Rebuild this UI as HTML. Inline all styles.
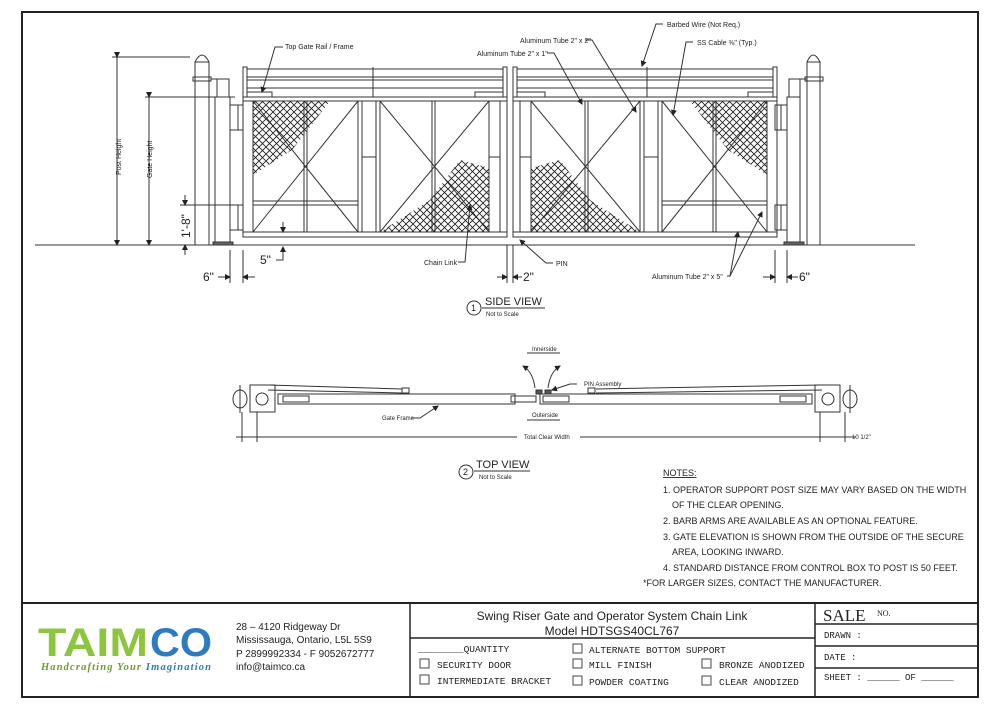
<!DOCTYPE html>
<html><head><meta charset="utf-8"><style>
html,body{margin:0;padding:0;background:#fff}
svg{display:block}
text{font-family:"Liberation Sans",Arial,sans-serif;fill:#222}
.m{font-family:"Liberation Mono",monospace;fill:#222}
.sf{font-family:"Liberation Serif",serif}
</style></head><body>
<svg width="1000" height="707" viewBox="0 0 1000 707" xmlns="http://www.w3.org/2000/svg">
<defs>
<pattern id="cl" width="7" height="7" patternUnits="userSpaceOnUse">
<path d="M0 0L7 7M7 0L0 7" stroke="#222" stroke-width="0.9"/>
</pattern>
<marker id="ar" markerWidth="6" markerHeight="6" refX="5" refY="3" orient="auto"><path d="M0 0L6 3L0 6z" fill="#222"/></marker>
<g id="leaf" fill="none" stroke="#333" stroke-width="1">
  <rect x="243" y="67" width="4" height="30"/>
  <rect x="503" y="67" width="4" height="30"/>
  <line x1="247" y1="69" x2="503" y2="69"/>
  <line x1="247" y1="77" x2="503" y2="77"/>
  <line x1="247" y1="80" x2="503" y2="80"/>
  <line x1="247" y1="88" x2="503" y2="88"/>
  <line x1="373" y1="67" x2="373" y2="97"/>
  <rect x="247" y="92" width="25" height="5"/>
  <rect x="475" y="92" width="28" height="5"/>
  <rect x="243" y="97" width="264" height="4"/>
  <rect x="243" y="232" width="264" height="5"/>
  <line x1="243" y1="101" x2="243" y2="232"/>
  <line x1="253" y1="101" x2="253" y2="232"/>
  <line x1="507" y1="101" x2="507" y2="232"/>
  <line x1="500" y1="101" x2="500" y2="232"/>
  <line x1="489" y1="101" x2="489" y2="232"/>
  <line x1="358" y1="101" x2="358" y2="232"/>
  <line x1="362" y1="101" x2="362" y2="232"/>
  <line x1="376" y1="101" x2="376" y2="232"/>
  <line x1="380" y1="101" x2="380" y2="232"/>
  <line x1="304" y1="101" x2="304" y2="232"/>
  <line x1="307" y1="101" x2="307" y2="232"/>
  <line x1="432" y1="101" x2="432" y2="232"/>
  <line x1="435" y1="101" x2="435" y2="232"/>
  <line x1="253" y1="201" x2="358" y2="201"/>
  <line x1="253" y1="205" x2="358" y2="205"/>
  <line x1="362" y1="157" x2="376" y2="157"/>
  <line x1="489" y1="157" x2="500" y2="157"/>
  <line x1="253" y1="101" x2="358" y2="232"/>
  <line x1="358" y1="101" x2="253" y2="232"/>
  <line x1="380" y1="101" x2="489" y2="232"/>
  <line x1="489" y1="101" x2="380" y2="232"/>
  <polygon points="253,101 330,101 292,150 253,175" fill="url(#cl)" stroke="none"/>
  <polygon points="380,232 489,232 489,168 460,160 430,200" fill="url(#cl)" stroke="none"/>
</g>
</defs>
<rect x="22" y="12" width="956" height="685" fill="none" stroke="#222" stroke-width="2"/>
<line x1="22" y1="603" x2="978" y2="603" stroke="#222" stroke-width="2"/>
<line x1="410" y1="603" x2="410" y2="697" stroke="#222" stroke-width="1.5"/>
<line x1="815" y1="603" x2="815" y2="697" stroke="#222" stroke-width="1.5"/>
<line x1="410" y1="638" x2="815" y2="638" stroke="#222" stroke-width="1.5"/>
<line x1="815" y1="624" x2="978" y2="624" stroke="#222" stroke-width="1.5"/>
<line x1="815" y1="646" x2="978" y2="646" stroke="#222" stroke-width="1.5"/>
<line x1="815" y1="668" x2="978" y2="668" stroke="#222" stroke-width="1.5"/>

<line x1="35" y1="245" x2="915" y2="245" stroke="#333"/>
<use href="#leaf"/>
<use href="#leaf" transform="translate(1020,0) scale(-1,1)"/>
<g fill="none" stroke="#333">
 <rect x="195" y="62" width="14" height="183"/>
 <path d="M195 62 Q202 48 209 62"/>
 <rect x="193" y="77" width="18" height="4"/>
 <line x1="211" y1="79" x2="229" y2="79"/>
 <rect x="217" y="79" width="12" height="18"/>
 <rect x="215" y="97" width="15" height="148"/>
 <rect x="230" y="105" width="13" height="25"/><line x1="238" y1="105" x2="238" y2="130"/>
 <rect x="230" y="205" width="13" height="25"/><line x1="238" y1="205" x2="238" y2="230"/>
 <rect x="213" y="242" width="20" height="3" fill="#666"/>
 <rect x="807" y="62" width="13" height="183"/>
 <path d="M807 62 Q813 48 820 62"/>
 <rect x="805" y="77" width="18" height="4"/>
 <line x1="789" y1="79" x2="807" y2="79"/>
 <rect x="789" y="79" width="11" height="18"/>
 <rect x="787" y="97" width="13" height="148"/>
 <rect x="775" y="105" width="12" height="25"/><line x1="781" y1="105" x2="781" y2="130"/>
 <rect x="775" y="205" width="12" height="25"/><line x1="781" y1="205" x2="781" y2="230"/>
 <rect x="784" y="242" width="20" height="3" fill="#666"/>
 <line x1="112" y1="57" x2="190" y2="57"/>
 <line x1="117" y1="57" x2="117" y2="245" marker-start="url(#ar)" marker-end="url(#ar)"/>
 <line x1="145" y1="97" x2="235" y2="97"/>
 <line x1="149" y1="97" x2="149" y2="245" marker-start="url(#ar)" marker-end="url(#ar)"/>
 <line x1="180" y1="205" x2="230" y2="205"/>
 <line x1="185" y1="195" x2="185" y2="205" marker-end="url(#ar)"/>
 <line x1="185" y1="255" x2="185" y2="245" marker-end="url(#ar)"/>
 <line x1="230" y1="250" x2="230" y2="283"/><line x1="243" y1="250" x2="243" y2="283"/>
 <line x1="218" y1="277" x2="230" y2="277" marker-end="url(#ar)"/>
 <line x1="255" y1="277" x2="243" y2="277" marker-end="url(#ar)"/>
 <line x1="787" y1="250" x2="787" y2="283"/><line x1="775" y1="250" x2="775" y2="283"/>
 <line x1="763" y1="277" x2="775" y2="277" marker-end="url(#ar)"/>
 <line x1="798" y1="277" x2="787" y2="277" marker-end="url(#ar)"/>
 <line x1="507" y1="245" x2="507" y2="283"/><line x1="513" y1="245" x2="513" y2="283"/>
 <line x1="497" y1="277" x2="507" y2="277" marker-end="url(#ar)"/>
 <line x1="522" y1="277" x2="513" y2="277" marker-end="url(#ar)"/>
 <line x1="283" y1="222" x2="283" y2="232" marker-end="url(#ar)"/>
 <polyline points="276,260 283,260 283,247" marker-end="url(#ar)"/>
 <polyline points="283,47 275,47 262,92" marker-end="url(#ar)"/>
 <polyline points="585,40 592,40 636,112" marker-end="url(#ar)"/>
 <polyline points="547,53 554,53 582,104" marker-end="url(#ar)"/>
 <polyline points="663,24 656,24 642,66" marker-end="url(#ar)"/>
 <polyline points="693,42 686,42 673,115" marker-end="url(#ar)"/>
 <polyline points="458,262 465,262 470,205" marker-end="url(#ar)"/>
 <polyline points="553,263 546,263 520,240" marker-end="url(#ar)"/>
 <polyline points="727,276 730,276 738,232" marker-end="url(#ar)"/>
 <line x1="730" y1="276" x2="762" y2="212" marker-end="url(#ar)"/>
 <circle cx="474" cy="308" r="7"/>
 <line x1="482" y1="308" x2="545" y2="308"/>
 <circle cx="466" cy="472" r="7"/>
 <line x1="474" y1="471" x2="530" y2="471"/>
</g>
<g font-size="7">
 <text x="285" y="49">Top Gate Rail / Frame</text>
 <text x="520" y="43">Aluminum Tube 2" x 2"</text>
 <text x="477" y="56">Aluminum Tube 2" x 1"</text>
 <text x="667" y="27">Barbed Wire (Not Req.)</text>
 <text x="697" y="45">SS Cable ⅜" (Typ.)</text>
 <text x="424" y="265">Chain Link</text>
 <text x="556" y="266">PIN</text>
 <text x="652" y="279">Aluminum Tube 2" x 5"</text>
 <text transform="translate(121,175) rotate(-90)">Post Height</text>
 <text transform="translate(152,178) rotate(-90)">Gate Height</text>
</g>
<g font-size="12">
 <text transform="translate(190,238) rotate(-90)">1'-8"</text>
 <text x="260" y="264">5"</text>
 <text x="203" y="281">6"</text>
 <text x="523" y="281">2"</text>
 <text x="799" y="281">6"</text>
</g>
<text x="471" y="311" font-size="9">1</text>
<text x="485" y="305" font-size="11">SIDE VIEW</text>
<text x="486" y="316" font-size="6">Not to Scale</text>

<g fill="none" stroke="#333">
 <ellipse cx="240" cy="399" rx="7" ry="9"/><line x1="240" y1="385" x2="240" y2="413"/>
 <rect x="250" y="385" width="25" height="27"/>
 <circle cx="262" cy="399" r="6"/>
 <line x1="268" y1="385" x2="402" y2="389"/><line x1="268" y1="390" x2="402" y2="393"/>
 <rect x="402" y="388" width="7" height="5"/>
 <rect x="278" y="394" width="237" height="10"/>
 <rect x="283" y="396" width="26" height="6"/>
 <rect x="511" y="396" width="25" height="6"/>
 <rect x="536" y="390" width="6" height="4" fill="#555"/>
 <ellipse cx="850" cy="399" rx="7" ry="9"/><line x1="850" y1="385" x2="850" y2="413"/>
 <rect x="815" y="385" width="25" height="27"/>
 <circle cx="828" cy="399" r="6"/>
 <line x1="822" y1="385" x2="596" y2="389"/><line x1="822" y1="390" x2="596" y2="393"/>
 <rect x="588" y="388" width="7" height="5"/>
 <rect x="540" y="394" width="272" height="10"/>
 <rect x="543" y="396" width="26" height="6"/>
 <rect x="780" y="396" width="26" height="6"/>
 <rect x="545" y="390" width="6" height="4" fill="#555"/>
 <path d="M535 388 Q533 372 523 366" marker-end="url(#ar)"/>
 <path d="M548 388 Q550 372 560 366" marker-end="url(#ar)"/>
 <polyline points="577,384 570,384 552,390" marker-end="url(#ar)"/>
 <polyline points="412,418 420,418 438,406" marker-end="url(#ar)"/>
 <line x1="527" y1="353" x2="560" y2="353"/>
 <line x1="527" y1="420" x2="560" y2="420"/>
 <line x1="242" y1="412" x2="242" y2="442"/>
 <line x1="257" y1="412" x2="257" y2="442"/>
 <line x1="820" y1="412" x2="820" y2="442"/>
 <line x1="845" y1="412" x2="845" y2="442"/>
 <line x1="236" y1="437" x2="517" y2="437"/>
 <line x1="580" y1="437" x2="856" y2="437"/>
</g>
<g font-size="6">
 <text x="532" y="351">Innerside</text>
 <text x="532" y="417">Outerside</text>
 <text x="584" y="386">PIN Assembly</text>
 <text x="382" y="420">Gate Frame</text>
 <text x="524" y="439">Total Clear Width</text>
 <text x="852" y="439">10 1/2"</text>
</g>
<text x="463" y="475" font-size="9">2</text>
<text x="476" y="468" font-size="11">TOP VIEW</text>
<text x="479" y="479" font-size="6">Not to Scale</text>

<g font-size="9">
 <text x="663" y="476" text-decoration="underline">NOTES:</text>
 <text x="663" y="493">1. OPERATOR SUPPORT POST SIZE MAY VARY BASED ON THE WIDTH</text>
 <text x="672" y="508">OF THE CLEAR OPENING.</text>
 <text x="663" y="524">2. BARB ARMS ARE AVAILABLE AS AN OPTIONAL FEATURE.</text>
 <text x="663" y="540">3. GATE ELEVATION IS SHOWN FROM THE OUTSIDE OF THE SECURE</text>
 <text x="672" y="555">AREA, LOOKING INWARD.</text>
 <text x="663" y="571">4. STANDARD DISTANCE FROM CONTROL BOX TO POST IS 50 FEET.</text>
 <text x="643" y="586">*FOR LARGER SIZES, CONTACT THE MANUFACTURER.</text>
</g>

<text x="38" y="656" font-size="40" font-weight="bold" textLength="110" lengthAdjust="spacingAndGlyphs" style="fill:#8cc63f">TAIM</text>
<text x="150" y="656" font-size="40" font-weight="bold" textLength="62" lengthAdjust="spacingAndGlyphs" style="fill:#2e7bc4">CO</text>
<text x="41" y="670" font-size="10.5" font-style="italic" font-weight="bold" class="sf" textLength="170" style="fill:#6a9e2e">Handcrafting Your <tspan style="fill:#2e7bc4">Imagination</tspan></text>
<g font-size="10">
 <text x="236" y="630">28 – 4120 Ridgeway Dr</text>
 <text x="236" y="643">Mississauga, Ontario, L5L 5S9</text>
 <text x="236" y="657">P 2899992334 - F 9052672777</text>
 <text x="236" y="670">info@taimco.ca</text>
</g>
<text x="612" y="620" font-size="12" text-anchor="middle">Swing Riser Gate and Operator System Chain Link</text>
<text x="612" y="635" font-size="12" text-anchor="middle">Model HDTSGS40CL767</text>
<g font-size="9.5">
 <text x="418" y="652" class="m">________QUANTITY</text>
 <text x="589" y="653" class="m">ALTERNATE BOTTOM SUPPORT</text>
 <text x="437" y="668" class="m">SECURITY DOOR</text>
 <text x="589" y="668" class="m">MILL FINISH</text>
 <text x="719" y="668" class="m">BRONZE ANODIZED</text>
 <text x="437" y="684" class="m">INTERMEDIATE BRACKET</text>
 <text x="589" y="685" class="m">POWDER COATING</text>
 <text x="719" y="685" class="m">CLEAR ANODIZED</text>
</g>
<g fill="none" stroke="#444">
 <rect x="573" y="644" width="9" height="9"/>
 <rect x="420" y="659" width="9" height="9"/>
 <rect x="573" y="659" width="9" height="9"/>
 <rect x="702" y="659" width="9" height="9"/>
 <rect x="420" y="675" width="9" height="9"/>
 <rect x="573" y="676" width="9" height="9"/>
 <rect x="702" y="676" width="9" height="9"/>
</g>
<text x="823" y="621" font-size="17" class="sf">SALE</text>
<text x="877" y="616" font-size="8" class="sf">NO.</text>
<text x="824" y="638" font-size="9" class="m">DRAWN :</text>
<text x="824" y="660" font-size="9" class="m">DATE :</text>
<text x="824" y="680" font-size="9" class="m">SHEET :  ______ OF ______</text>
</svg>
</body></html>
